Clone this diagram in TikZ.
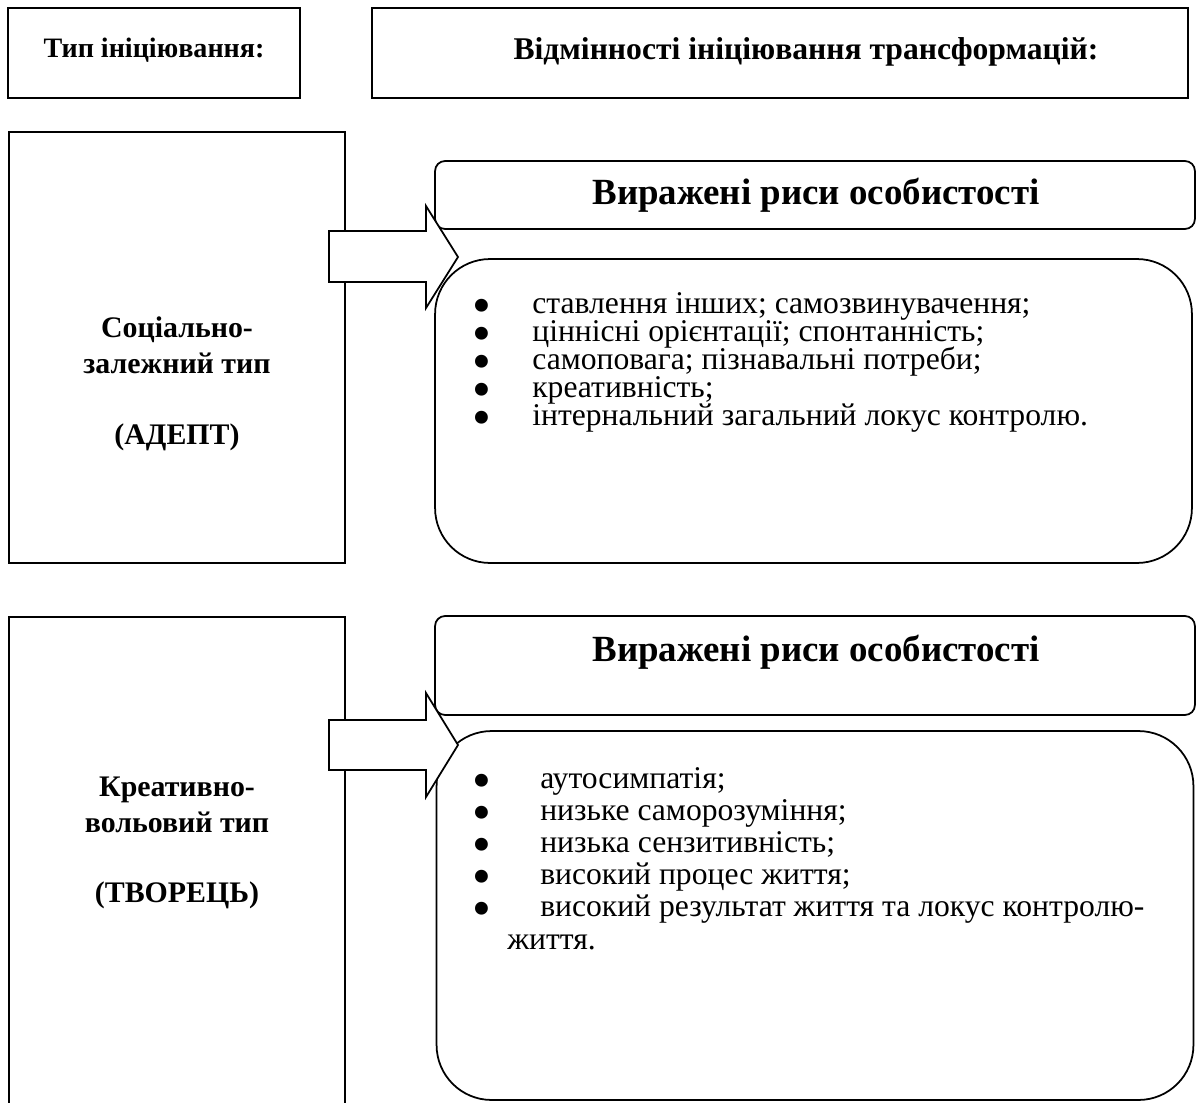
\documentclass[tikz,border=0pt]{standalone}
\usepackage{fontspec}
\setmainfont{Liberation Serif}[BoldFont={Liberation Serif Bold}]
\usetikzlibrary{positioning}

\newcommand{\bul}{\makebox[1.2cm][l]{\raisebox{-6pt}[0pt][0pt]{\scalebox{1.7}{•}}}}

\begin{document}
\begin{tikzpicture}[
    x=0.02cm, y=-0.02cm,
    frame/.style={draw, line width=1pt, inner sep=0pt},
    headbox/.style={frame, minimum height=1.8cm},
    typebox/.style={frame, minimum width=6.72cm},
    titlebox/.style={frame, rounded corners=0.2cm, minimum width=15.2cm},
    listbox/.style={frame, rounded corners=1.1cm, minimum width=15.14cm},
    blockarrow/.style={draw, fill=white, line width=1pt, line join=miter},
    headtext/.style={font=\fontsize{16}{19}\selectfont\bfseries},
    typetext/.style={font=\fontsize{17}{20.4}\selectfont\bfseries, align=center},
    titletext/.style={font=\fontsize{21}{24}\selectfont\bfseries},
    itemtext/.style={anchor=base west, inner sep=0pt, text height=11pt, text depth=3pt,
        font=\fontsize{18}{20}\selectfont}
]
\path[use as bounding box] (0,0) rectangle (1196,1102);
\clip (0,0) rectangle (1196,1102);

% Header row
\node[headbox, minimum width=5.84cm] (hd1) at (154,53) {};
\node[headbox, minimum width=16.32cm] (hd2) at (780,53) {};
\node[headtext] (hd1txt) at (154,50) {Тип ініціювання:};
\node[headtext, font=\fontsize{18}{20}\selectfont\bfseries] (hd2txt) at (806,52) {Відмінності ініціювання трансформацій:};

% First type
\node[typebox, minimum height=8.62cm] (type1) at (177,347.5) {};
\node[titlebox, minimum height=1.36cm] (title1) at (815,195) {};
\node[listbox, minimum height=6.08cm] (list1) at (813.5,411) {};

\draw[blockarrow] (329,231) -- (426,231) -- (426,206) -- (458,257)
    -- (426,308) -- (426,282) -- (329,282) -- cycle;

\node[typetext] (type1txt) at (177,384) {Соціально-\\залежний тип\\[19.9pt](АДЕПТ)};
\node[titletext] (title1txt) at (816,195) {Виражені риси особистості};
\foreach \txt [count=\i] in {ставлення інших; самозвинувачення;,
    ціннісні орієнтації; спонтанність;, самоповага; пізнавальні потреби;,
    креативність;, інтернальний загальний локус контролю.}
  \node[itemtext] (item1-\i) at (472,{313+28*(\i-1)}) {\bul\txt};

% Second type
\node[typebox, minimum height=10.06cm] (type2) at (177,868.5) {};
\node[titlebox, minimum height=1.98cm] (title2) at (815,665.5) {};
\node[listbox, minimum height=7.38cm] (list2) at (815,915.5) {};

\draw[blockarrow] (329,720) -- (426,720) -- (426,693) -- (458,745)
    -- (426,797) -- (426,770) -- (329,770) -- cycle;

\node[typetext] (type2txt) at (177,843) {Креативно-\\вольовий тип\\[19.9pt](ТВОРЕЦЬ)};
\node[titletext] (title2txt) at (816,652) {Виражені риси особистості};
\foreach \txt [count=\i] in {аутосимпатія;, низьке саморозуміння;,
    низька сензитивність;, високий процес життя;,
    високий результат життя та локус контролю-}
  \node[itemtext] (item2-\i) at (472,{788+32*(\i-1)}) {\bul\ \txt};
\node[itemtext] (item2-6) at (507,949) {життя.};

\end{tikzpicture}
\end{document}
